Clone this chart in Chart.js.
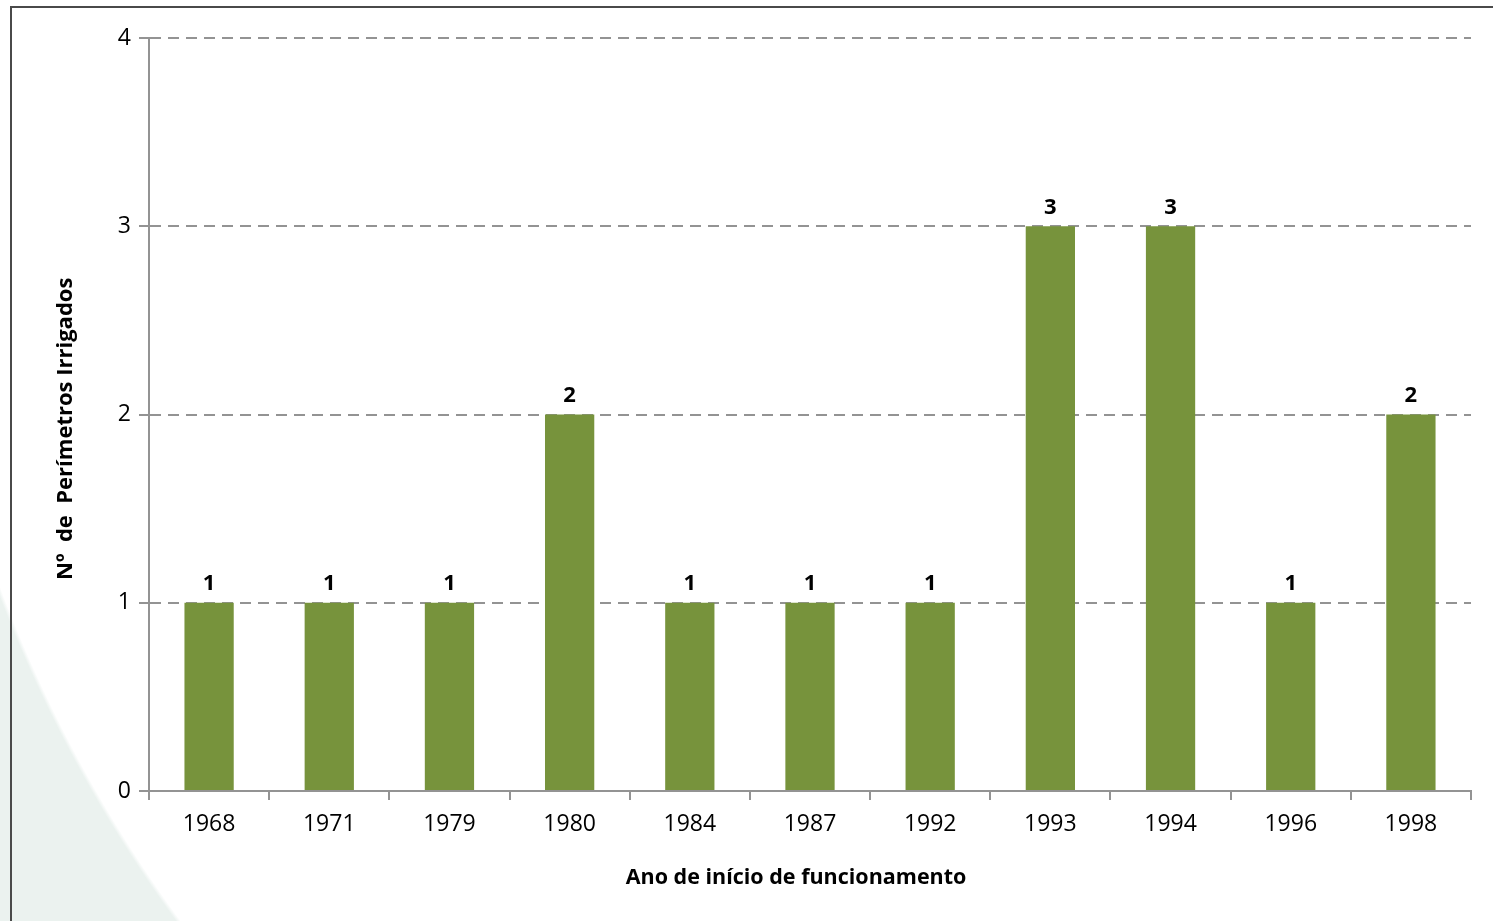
<!DOCTYPE html>
<html>
<head>
<meta charset="utf-8">
<script src="https://cdn.jsdelivr.net/npm/chart.js@4.4.1/dist/chart.umd.min.js"></script>
<style>
  html, body { margin: 0; padding: 0; }
  body {
    width: 1493px; height: 921px; overflow: hidden; position: relative;
    background: radial-gradient(circle at 1300px 100px, #ffffff 1388px, #ebf2ef 1392px);
  }
  #frame {
    position: absolute; left: 10px; top: 6px; right: 0; bottom: 0;
    border-top: 2px solid #4a4a4a; border-left: 2px solid #4a4a4a;
  }
  #wrap { position: absolute; left: 0; top: 0; width: 1493px; height: 921px; }
</style>
</head>
<body>
<div id="frame"></div>
<div id="wrap"><canvas id="chart" width="1493" height="921"></canvas></div>
<script>
const anos = ['1968', '1971', '1979', '1980', '1984', '1987', '1992', '1993', '1994', '1996', '1998'];
const perimetros = [1, 1, 1, 2, 1, 1, 1, 3, 3, 1, 2];
const yTicks = [0, 1, 2, 3, 4];

const fonte = "'Open Sans', 'Liberation Sans', sans-serif";
const cinza = '#939393';
const nbsp = '\u00a0';

// rótulos de valor por cima das barras
const rotulos = {
    id: 'rotulos',
    afterDatasetsDraw(chart) {
        const ctx = chart.ctx;
        const meta = chart.getDatasetMeta(0);
        ctx.save();
        ctx.font = 'bold 22px ' + fonte;
        ctx.fillStyle = '#000';
        ctx.textAlign = 'center';
        ctx.textBaseline = 'bottom';
        meta.data.forEach((bar, i) => {
            ctx.fillText(perimetros[i], bar.x, bar.y - 8);
        });
        ctx.restore();
    }
};

new Chart(document.getElementById('chart').getContext('2d'), {
    type: 'bar',
    data: {
        labels: anos,
        datasets: [{
            label: 'Nº de Perímetros Irrigados',
            data: perimetros,
            backgroundColor: '#77933c',
            borderWidth: 0,
            barPercentage: 0.41,
            categoryPercentage: 1
        }]
    },
    options: {
        responsive: false,
        animation: false,
        devicePixelRatio: 1,
        layout: { padding: { left: 53, right: 22, top: 38, bottom: 30 } },
        plugins: { legend: { display: false }, tooltip: { enabled: false } },
        scales: {
            x: {
                grid: { offset: true, drawOnChartArea: false, color: cinza, tickLength: 9, lineWidth: 2 },
                border: { color: cinza, width: 2 },
                ticks: { color: '#000', font: { family: fonte, size: 23 }, padding: 11, autoSkip: false, maxRotation: 0 },
                title: {
                    display: true, text: 'Ano de início de funcionamento' + nbsp.repeat(5), color: '#000',
                    font: { family: fonte, size: 21.5, weight: 'bold' }, padding: 0
                },
                afterFit(scale) { scale.height = 100; }
            },
            y: {
                min: 0, max: 4,
                afterBuildTicks(scale) { scale.ticks = yTicks.map(v => ({ value: v })); },
                grid: { color: cinza, lineWidth: 2, tickLength: 10, tickBorderDash: [0, 0] },
                border: { color: cinza, width: 2, dash: [11, 7] },
                ticks: { color: '#000', font: { family: fonte, size: 23 }, padding: 8 },
                title: {
                    display: true, text: 'Nº  de  Perímetros Irrigados' + nbsp.repeat(5), color: '#000',
                    font: { family: fonte, size: 22, weight: 'bold' }, padding: 0
                },
                afterFit(scale) { scale.width = 96; }
            }
        }
    },
    plugins: [rotulos]
});
</script>
</body>
</html>
